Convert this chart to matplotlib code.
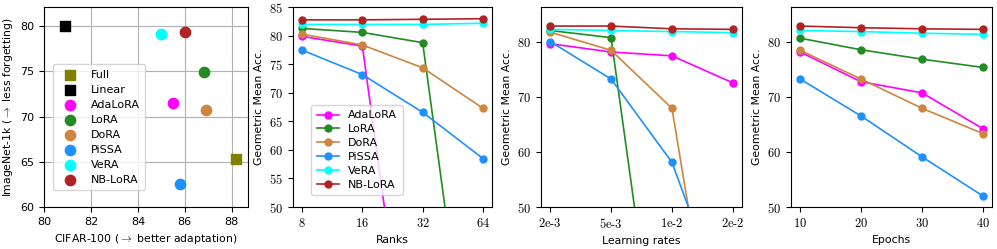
import numpy as np
import matplotlib
matplotlib.use('Agg')
import matplotlib.pyplot as plt

plt.rcParams['font.family'] = 'DejaVu Sans'
plt.rcParams['mathtext.fontset'] = 'cm'
plt.rcParams['font.size'] = 8
plt.rcParams['axes.labelsize'] = 7.8

# ---- data ----
methods = ['AdaLoRA', 'LoRA', 'DoRA', 'PiSSA', 'VeRA', 'NB-LoRA']
colors = {'AdaLoRA': 'magenta', 'LoRA': 'forestgreen', 'DoRA': 'peru',
          'PiSSA': 'dodgerblue', 'VeRA': 'cyan', 'NB-LoRA': 'firebrick'}

# panel 1: CIFAR-100 vs ImageNet-1k
scatter_names = ['Full', 'Linear', 'AdaLoRA', 'LoRA', 'DoRA', 'PiSSA', 'VeRA', 'NB-LoRA']
cifar = [88.2, 80.9, 85.5, 86.8, 86.9, 85.8, 85.0, 86.0]
imagenet = [65.3, 80.0, 71.5, 74.9, 70.7, 62.5, 79.1, 79.4]

# panel 2: ranks
ranks = ['8', '16', '32', '64']
acc_rank = {
    'AdaLoRA': [79.9, 78.2, 1.0, 1.0],
    'LoRA': [81.3, 80.6, 78.8, 1.0],
    'DoRA': [80.3, 78.4, 74.4, 67.3],
    'PiSSA': [77.5, 73.2, 66.6, 58.5],
    'VeRA': [82.0, 82.0, 82.0, 82.2],
    'NB-LoRA': [82.8, 82.8, 82.9, 83.0],
}

# panel 3: learning rates
lrs = ['2e-3', '5e-3', '1e-2', '2e-2']
acc_lr = {
    'AdaLoRA': [79.6, 78.1, 77.4, 72.5],
    'LoRA': [82.0, 80.7, 1.0, 1.0],
    'DoRA': [81.7, 78.4, 67.9, 1.0],
    'PiSSA': [80.0, 73.2, 58.1, 28.0],
    'VeRA': [82.2, 82.0, 81.8, 81.6],
    'NB-LoRA': [82.8, 82.8, 82.3, 82.2],
}

# panel 4: epochs
epochs = ['10', '20', '30', '40']
acc_ep = {
    'AdaLoRA': [78.1, 72.7, 70.7, 64.2],
    'LoRA': [80.6, 78.5, 76.8, 75.3],
    'DoRA': [78.4, 73.2, 67.9, 63.3],
    'PiSSA': [73.2, 66.5, 59.1, 52.0],
    'VeRA': [82.0, 81.8, 81.5, 81.3],
    'NB-LoRA': [82.8, 82.5, 82.3, 82.2],
}

fig = plt.figure(figsize=(9.97, 2.49), dpi=100)
W, H = 997., 249.
def add_ax(l, r, t=7.3, b=207):
    return fig.add_axes([l/W, 1-b/H, (r-l)/W, (b-t)/H])

def cm_label(s):
    # serif tick labels, keep '-' as a hyphen
    return r'$\mathrm{' + s.replace('-', r'\text{-}') + '}$'

# ---- panel 1 ----
ax = add_ax(44.3, 248)
sc_colors = ['olive', 'black'] + [colors[m] for m in methods]
for i, nm in enumerate(scatter_names):
    mk = 's' if i < 2 else 'o'
    ax.scatter(cifar[i], imagenet[i], s=55, marker=mk, color=sc_colors[i], label=nm, zorder=3)
ax.set_xlim(80, 88.7)
ax.set_ylim(60, 82.1)
ax.set_xticks([80, 82, 84, 86, 88])
ax.set_yticks([60, 65, 70, 75, 80])
ax.grid(True, color='#b0b0b0', linewidth=0.8)
ax.set_axisbelow(True)
ax.set_xlabel(r'CIFAR-100 ($\rightarrow$ better adaptation)')
ax.set_ylabel(r'ImageNet-1k ($\rightarrow$ less forgetting)')
ax.legend(loc='lower left', bbox_to_anchor=(0.015, 0.055), handletextpad=0.9,
          labelspacing=0.45, borderpad=0.5, framealpha=0.8)

def line_panel(ax, xt, data, ylim, yticks, xlabel, legend=False):
    x = np.arange(len(xt))
    for m in methods:
        ax.plot(x, data[m], '-o', color=colors[m], markersize=5, linewidth=1.2, label=m)
    ax.set_xticks(x, labels=[cm_label(s) for s in xt])
    ax.set_ylim(*ylim)
    ax.set_yticks(yticks, labels=[cm_label(str(v)) for v in yticks])
    ax.tick_params(labelsize=9)
    ax.set_xlabel(xlabel)
    ax.set_ylabel('Geometric Mean Acc.')
    if legend:
        ax.legend(loc='lower left', bbox_to_anchor=(0.065, 0.03), labelspacing=0.35,
                  handlelength=2.0, borderpad=0.5, framealpha=0.8)

ax2 = add_ax(293, 492)
line_panel(ax2, ranks, acc_rank, (50, 85), [50, 55, 60, 65, 70, 75, 80, 85], 'Ranks', legend=True)

ax3 = add_ax(541, 742)
line_panel(ax3, lrs, acc_lr, (50, 86.2), [50, 60, 70, 80], 'Learning rates')

ax4 = add_ax(791, 992)
line_panel(ax4, epochs, acc_ep, (50, 86.2), [50, 60, 70, 80], 'Epochs')

fig.savefig('out.png', dpi=100)
